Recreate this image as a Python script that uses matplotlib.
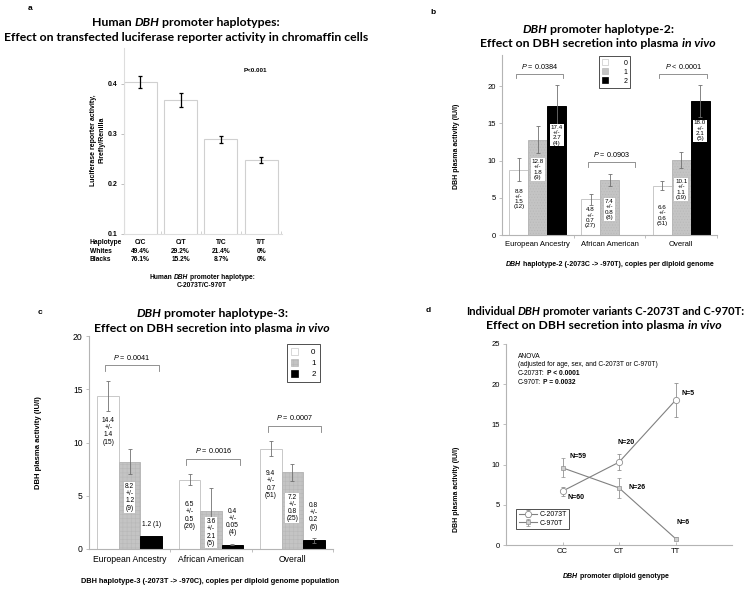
import matplotlib
matplotlib.use('Agg')
import matplotlib.pyplot as plt
from matplotlib.patches import Patch

W, H = 751, 589
TFONT = 'Lato'
BFONT = 'Liberation Sans'
plt.rcParams['font.family'] = BFONT
plt.rcParams['mathtext.fontset'] = 'custom'
plt.rcParams['mathtext.it'] = 'Liberation Sans:italic'
plt.rcParams['mathtext.rm'] = 'Liberation Sans'
plt.rcParams['hatch.linewidth'] = 0.4

# ---- panel a: luciferase reporter
hap_labels = ['C/C', 'C/T', 'T/C', 'T/T']
luc_mean = [0.404, 0.369, 0.290, 0.248]
luc_err = [0.012, 0.014, 0.007, 0.006]
whites_pct = ['49.4%', '29.2%', '21.4%', '0%']
blacks_pct = ['76.1%', '15.2%', '8.7%', '0%']

# ---- panels b, c: plasma DBH by copies of haplotype
groups = ['European Ancestry', 'African American', 'Overall']
copies = ['0', '1', '2']
h2_mean = [[8.8, 12.8, 17.4], [4.8, 7.4, None], [6.6, 10.1, 18.0]]
h2_sd = [[1.5, 1.8, 2.7], [0.7, 0.8, None], [0.6, 1.1, 2.1]]
h2_n = [[12, 9, 4], [27, 8, None], [51, 19, 5]]
h2_p = ['$P$ = 0.0384', '$P$ = 0.0903', '$P$ < 0.0001']

h3_mean = [[14.4, 8.2, 1.2], [6.5, 3.6, 0.4], [9.4, 7.2, 0.8]]
h3_sd = [[1.4, 1.2, None], [0.5, 2.1, 0.05], [0.7, 0.8, 0.2]]
h3_n = [[15, 9, 1], [26, 5, 4], [51, 25, 6]]
h3_p = ['$P$ = 0.0041', '$P$ = 0.0016', '$P$ = 0.0007']

# ---- panel d: individual variants
genotypes = ['CC', 'CT', 'TT']
c2073_mean = [6.7, 10.3, 18.0]
c2073_err = [0.55, 1.0, 2.1]
c2073_n = ['N=60', 'N=20', 'N=5']
c970_mean = [9.6, 7.1, 0.8]
c970_err = [1.2, 1.2, 0.2]
c970_n = ['N=59', 'N=26', 'N=6']

fig = plt.figure(figsize=(W / 100, H / 100), dpi=100)
fig.patch.set_facecolor('white')
rend = fig.canvas.get_renderer()

SPINE = '#b4b4b4'
TSIZE = 8.8


def px_axes(l, t, r, b):
    return fig.add_axes([l / W, 1 - b / H, (r - l) / W, (b - t) / H])


def width_of(s, **kw):
    t = fig.text(0, 0, s, **kw)
    w = t.get_window_extent(rend).width
    t.remove()
    return w


def rich(x, y, s, size, family, ha='center', bold=True):
    # *...* = italic, #...# = toggles bold
    segs = []
    it, bd = False, bold
    buf = ''
    for ch in s:
        if ch in '*#':
            if buf:
                segs.append((buf, it, bd))
            buf = ''
            if ch == '*':
                it = not it
            else:
                bd = not bd
        else:
            buf += ch
    if buf:
        segs.append((buf, it, bd))
    pieces = []
    total = 0
    for txt, i, b in segs:
        kw = dict(fontsize=size, family=family, style='italic' if i else 'normal',
                  weight='bold' if b else 'normal')
        sp = width_of('x x', **kw) - width_of('xx', **kw)
        lead = len(txt) - len(txt.lstrip(' '))
        trail = len(txt) - len(txt.rstrip(' '))
        core = txt.strip(' ')
        w = width_of(core, **kw) if core else 0
        pieces.append((core, kw, lead * sp, w, trail * sp))
        total += lead * sp + w + trail * sp
    pos = x - total / 2 if ha == 'center' else x
    for core, kw, lead, w, trail in pieces:
        pos += lead
        if core:
            fig.text(pos / W, 1 - y / H, core, va='baseline', ha='left', **kw)
        pos += w + trail


def style_axes(ax):
    for s in ['top', 'right']:
        ax.spines[s].set_visible(False)
    for s in ['left', 'bottom']:
        ax.spines[s].set_color(SPINE)
        ax.spines[s].set_linewidth(0.8)
    ax.tick_params(colors=SPINE, labelcolor='black', labelsize=5.5, width=0.6, length=2.5, pad=2)


# ================= panel a
ax = px_axes(124, 48, 282, 234)
xa = range(len(hap_labels))
ax.bar(xa, luc_mean, width=0.82, color='white', edgecolor='#d0d0d0', linewidth=0.8)
ax.errorbar(xa, luc_mean, yerr=luc_err, fmt='none', ecolor='black', elinewidth=0.9,
            capsize=1.5, capthick=0.9)
ax.set_ylim(0.1, 0.472)
ax.set_xlim(-0.41, 3.52)
ax.set_yticks([0.1, 0.2, 0.3, 0.4])
ax.set_yticklabels(['0.1', '0.2', '0.3', '0.4'], fontweight='bold')
ax.set_xticks([0.5, 1.5, 2.5, 3.5])
ax.set_xticklabels([])
style_axes(ax)
ax.spines['bottom'].set_color('#dddddd')
ax.spines['left'].set_color('#dddddd')
ax.tick_params(axis='x', direction='in', length=2, colors='#cccccc')
ax.tick_params(axis='y', labelsize=5)
ax.text(0.83, 0.88, 'P<0.001', transform=ax.transAxes, fontsize=4.5, fontweight='bold',
        ha='center', va='center')
row_kw = dict(fontsize=4.8, fontweight='bold', va='center')
for j, (lab, rowvals) in enumerate([('Haplotype', hap_labels), ('Whites', whites_pct),
                                     ('Blacks', blacks_pct)]):
    yy = 1 - (243 + 8.3 * j) / H
    fig.text(90 / W, yy, lab, ha='left', **row_kw)
    for i, v in enumerate(rowvals):
        xx = ax.transData.transform((i, 0.3))[0] / W
        fig.text(xx, yy, v, ha='center', **row_kw)
fig.text(98 / W, 1 - 140 / H, 'Luciferase reporter activity,\nFirefly/Renilla', rotation=90,
         ha='center', va='center', fontsize=5, fontweight='bold', linespacing=1.3)
rich(202, 279, 'Human *DBH* promoter haplotype:', 4.8, BFONT)
rich(202, 287, 'C-2073T/C-970T', 4.8, BFONT)
rich(186, 26, 'Human *DBH* promoter haplotypes:', TSIZE, TFONT)
rich(186, 41, 'Effect on transfected luciferase reporter activity in chromaffin cells', TSIZE, TFONT)
fig.text(30 / W, 1 - 8 / H, 'a', fontsize=6, fontweight='bold', ha='center', va='center')


# ================= panels b and c
def group_bars(ax, means, sds, ns, pvals, ymax, wbar, lab_h, lab_off, lab_size, br_off,
               br_leg, hatch):
    fills = ['white', '#c4c4c4', 'black']
    edges = ['#c8c8c8', '#b8b8b8', 'black']
    hatches = [None, hatch, None]
    for g in range(len(groups)):
        tops = []
        for k in range(3):
            m = means[g][k]
            if m is None:
                continue
            x = g + (k - 1) * wbar
            ax.bar(x, m, width=wbar, color=fills[k], edgecolor=edges[k], linewidth=0.7,
                   hatch=hatches[k])
            sd = sds[g][k]
            if sd is not None:
                ax.errorbar(x, m, yerr=sd, fmt='none', ecolor='#707070', elinewidth=0.6,
                            capsize=1.3, capthick=0.6)
            tops.append(m + (sd or 0))
            if sd is None:
                lab = '%s (%d)' % (m, ns[g][k])
            else:
                lab = '%s\n+/-\n%s\n(%d)' % (m, sd, ns[g][k])
            if m < 2:
                ax.text(x, m + (sd or 0) + 0.25 * lab_h, lab, ha='center', va='bottom',
                        fontsize=lab_size, linespacing=1.05)
            else:
                ax.text(x, max(m - lab_off, lab_h), lab, ha='center', va='top',
                        fontsize=lab_size, linespacing=1.05,
                        bbox=dict(boxstyle='square,pad=0.15', fc='white', ec='none'))
        x0, x1 = g - 1.15 * wbar, g + 1.35 * wbar
        yb = max(tops) + br_off
        ax.plot([x0, x0, x1, x1], [yb - br_leg, yb, yb, yb - br_leg], color='#808080', lw=0.6)
        ax.text((x0 + x1) / 2, yb + br_leg * 0.6, pvals[g], ha='center', va='bottom',
                fontsize=5.2)
    ax.set_xlim(-0.5, 2.5)
    ax.set_ylim(0, ymax)
    ax.set_xticks(range(len(groups)))
    ax.set_xticklabels(groups)
    style_axes(ax)
    ax.tick_params(axis='x', length=0, pad=4)
    ax.set_xticks([0.5, 1.5, 2.5], minor=True)
    ax.tick_params(axis='x', which='minor', length=2.5, color=SPINE)


axb = px_axes(502, 55, 717, 235)
group_bars(axb, h2_mean, h2_sd, h2_n, h2_p, 24.2, 0.264, 3.7, 2.6, 4.5, 1.6, 0.6, '......')
axb.set_yticks([0, 5, 10, 15, 20])
axb.tick_params(axis='both', labelsize=5.5)
hb = [Patch(fc=c, ec=e, lw=0.5) for c, e in zip(['white', '#c4c4c4', 'black'],
                                                 ['#c8c8c8', '#b8b8b8', 'black'])]
lg = axb.legend(hb, copies, loc='upper left', bbox_to_anchor=(0.44, 1.005), fontsize=5,
                frameon=True, fancybox=False, handlelength=0.9, handleheight=0.9,
                handletextpad=2.2, borderpad=0.45, labelspacing=0.25, borderaxespad=0.3)
lg.get_frame().set_edgecolor('black')
lg.get_frame().set_linewidth(0.6)
fig.text(457 / W, 1 - 146 / H, 'DBH plasma activity (IU/l)', rotation=90, ha='center',
         va='center', fontsize=5, fontweight='bold')
rich(610, 266, '*DBH* haplotype-2 (-2073C -> -970T), copies per diploid genome', 5, BFONT)
rich(598, 33, '*DBH* promoter haplotype-2:', TSIZE, TFONT)
rich(598, 47, 'Effect on DBH secretion into plasma *in vivo*', TSIZE, TFONT)
fig.text(433 / W, 1 - 13 / H, 'b', fontsize=6, fontweight='bold', ha='center', va='center')

axc = px_axes(89, 336, 333, 549)
group_bars(axc, h3_mean, h3_sd, h3_n, h3_p, 20, 0.264, 2.9, 2.0, 4.8, 1.45, 0.55, '++++')
axc.set_yticks([0, 5, 10, 15, 20])
axc.tick_params(axis='both', labelsize=6.2)
lg = axc.legend(hb[:1] + [Patch(fc='#c4c4c4', ec='#b8b8b8', lw=0.5, hatch='++++')] + hb[2:],
                copies, loc='upper left', bbox_to_anchor=(0.795, 0.98), fontsize=5.8,
                frameon=True, fancybox=False, handlelength=0.9, handleheight=0.9,
                handletextpad=1.6, borderpad=0.5, labelspacing=0.35)
lg.get_frame().set_edgecolor('black')
lg.get_frame().set_linewidth(0.6)
fig.text(38 / W, 1 - 443 / H, 'DBH plasma activity (IU/l)', rotation=90, ha='center',
         va='center', fontsize=5.5, fontweight='bold')
rich(210, 583, 'DBH haplotype-3 (-2073T -> -970C), copies per diploid genome population', 5.3,
     BFONT)
rich(212, 317, '*DBH* promoter haplotype-3:', TSIZE, TFONT)
rich(212, 332, 'Effect on DBH secretion into plasma *in vivo*', TSIZE, TFONT)
fig.text(40 / W, 1 - 313 / H, 'c', fontsize=6, fontweight='bold', ha='center', va='center')

# ================= panel d
axd = px_axes(506, 344, 732, 545)
xd = [1, 2, 3]
LC = '#808080'
axd.errorbar(xd, c2073_mean, yerr=c2073_err, color=LC, lw=0.8, marker='o', ms=4.5,
             mfc='white', mec='#909090', mew=0.6, ecolor='#909090', elinewidth=0.6,
             capsize=1.5, capthick=0.6, label='C-2073T')
axd.errorbar(xd, c970_mean, yerr=c970_err, color=LC, lw=0.8, marker='s', ms=3,
             mfc='#d0d0d0', mec='#909090', mew=0.5, ecolor='#909090', elinewidth=0.6,
             capsize=1.5, capthick=0.6, label='C-970T')
n_off_2073 = [(14, -6), (7, 20), (13, 7)]
n_off_970 = [(15, 11), (18, 0), (8, 16)]
for x, m, lab, off in zip(xd, c2073_mean, c2073_n, n_off_2073):
    axd.annotate(lab, (x, m), xytext=off, textcoords='offset pixels', ha='center',
                 va='center', fontsize=5, fontweight='bold')
for x, m, lab, off in zip(xd, c970_mean, c970_n, n_off_970):
    axd.annotate(lab, (x, m), xytext=off, textcoords='offset pixels', ha='center',
                 va='center', fontsize=5, fontweight='bold')
axd.set_xlim(0, 4)
axd.set_ylim(0, 25)
axd.set_xticks(xd)
axd.set_xticklabels(genotypes)
axd.set_yticks([0, 5, 10, 15, 20, 25])
style_axes(axd)
axd.tick_params(axis='x', direction='in', length=2.5)
axd.tick_params(axis='both', labelsize=5.5)
lg = axd.legend(loc='lower left', bbox_to_anchor=(0.03, 0.06), fontsize=5, frameon=True,
                fancybox=False, handlelength=2.6, borderpad=0.4, labelspacing=0.2,
                handletextpad=0.3)
lg.get_frame().set_edgecolor('black')
lg.get_frame().set_linewidth(0.6)
rich(518, 358, '#ANOVA#', 4.8, BFONT, ha='left')
rich(518, 366, '#(adjusted for age, sex, and C-2073T or C-970T)#', 4.8, BFONT, ha='left')
rich(518, 375, '#C-2073T: #P < 0.0001', 4.8, BFONT, ha='left')
rich(518, 384, '#C-970T: #P = 0.0032', 4.8, BFONT, ha='left')
fig.text(457 / W, 1 - 489 / H, 'DBH plasma activity (IU/l)', rotation=90, ha='center',
         va='center', fontsize=5, fontweight='bold')
rich(616, 578, '*DBH* promoter diploid genotype', 5, BFONT)
rich(605, 315, 'Individual *DBH* promoter variants C-2073T and C-970T:', 8.1, TFONT)
rich(604, 329, 'Effect on DBH secretion into plasma *in vivo*', TSIZE, TFONT)
fig.text(428 / W, 1 - 311 / H, 'd', fontsize=6, fontweight='bold', ha='center', va='center')

fig.savefig('out.png', dpi=100, facecolor='white')
